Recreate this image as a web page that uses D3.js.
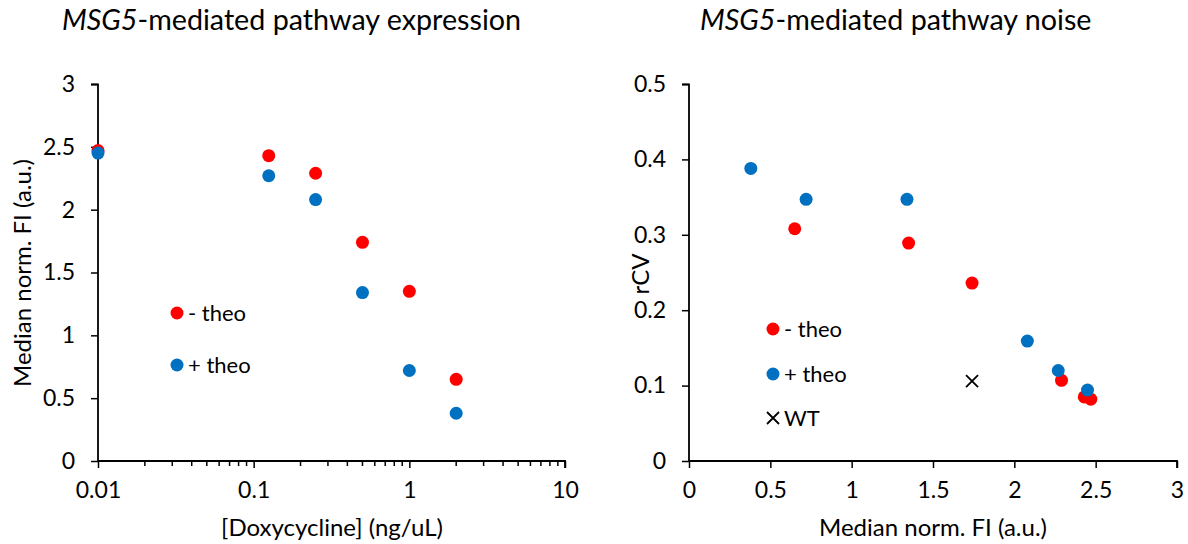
<!DOCTYPE html>
<html>
<head>
<meta charset="utf-8">
<script src="https://cdn.jsdelivr.net/npm/d3@7"></script>
<style>
  html, body { margin: 0; padding: 0; background: #fff; }
  svg { display: block; }
  text { font-family: Lato, "Open Sans", sans-serif; fill: #000; }
</style>
</head>
<body>
<svg id="chart" width="1188" height="544"></svg>
<script>
// Doxycycline doses (ng/uL); the untreated sample is plotted at 0.01
const doses = [0.01, 0.125, 0.25, 0.5, 1, 2];
// Median normalised fluorescence per dose
const medianNoTheo = [2.47, 2.43, 2.29, 1.74, 1.35, 0.65];
const medianTheo   = [2.45, 2.27, 2.08, 1.34, 0.72, 0.38];
// Robust coefficient of variation per dose
const rcvNoTheo = [0.082, 0.085, 0.107, 0.236, 0.289, 0.308];
const rcvTheo   = [0.094, 0.120, 0.159, 0.347, 0.347, 0.388];
// Wild-type reference
const wtMedian = [1.74];
const wtRcv = [0.106];

const leftYTicks = [0, 0.5, 1, 1.5, 2, 2.5, 3];
const leftXTicks = [0.01, 0.1, 1, 10];
const rightYTicks = [0, 0.1, 0.2, 0.3, 0.4, 0.5];
const rightXTicks = [0, 0.5, 1, 1.5, 2, 2.5, 3];

const RED = "#ff0000", BLUE = "#0070c0";
const R = 6.5;
const TICK_FONT = "23px", LABEL_FONT = "24px", LEGEND_FONT = "22px", TITLE_FONT = "28.7px";

const svg = d3.select("#chart");

function fmt(v) { return String(v); }

function drawAxes(g, x, y, xTicks, yTicks, minorX) {
  const [x0, x1] = x.range();
  const [y0, y1] = y.range();
  // y axis
  const ya = g.append("g").attr("transform", `translate(${x0},0)`)
    .call(d3.axisLeft(y).tickValues(yTicks).tickFormat(fmt).tickSize(7).tickSizeOuter(7).tickPadding(16));
  // x axis
  const xa = g.append("g").attr("transform", `translate(0,${y0})`)
    .call(d3.axisBottom(x).tickValues(xTicks).tickFormat(fmt).tickSize(7).tickSizeOuter(0).tickPadding(14));
  if (minorX) {
    g.append("g").attr("transform", `translate(0,${y0})`)
      .selectAll("line").data(minorX).join("line")
      .attr("x1", d => x(d)).attr("x2", d => x(d))
      .attr("y1", 0).attr("y2", 5)
      .attr("stroke", "#000").attr("stroke-width", 1.5);
  }
  [ya, xa].forEach(a => {
    a.select(".domain").attr("stroke", "#000").attr("stroke-width", 1.8);
    a.selectAll(".tick line").attr("stroke", "#000").attr("stroke-width", 1.5);
    a.selectAll(".tick text").style("font-size", TICK_FONT).attr("fill", "#000");
  });
  ya.select(".domain").attr("d", `M-7,${y1 + 0.5}H0V${y0}`);
  xa.select(".domain").attr("d", `M${x0},0H${x1}V7`);
}

function title(g, x, y, rest) {
  const t = g.append("text").attr("x", x).attr("y", y).style("font-size", TITLE_FONT);
  t.append("tspan").style("font-style", "italic").text("MSG5");
  t.append("tspan").text(rest);
}

function dots(g, xs, ys, x, y, color) {
  g.append("g").selectAll("circle").data(xs.map((d, i) => [d, ys[i]])).join("circle")
    .attr("cx", d => x(d[0])).attr("cy", d => y(d[1])).attr("r", R).attr("fill", color);
}

function cross(g, cx, cy, s) {
  g.append("path").attr("d", `M${cx - s},${cy - s}L${cx + s},${cy + s}M${cx - s},${cy + s}L${cx + s},${cy - s}`)
    .attr("stroke", "#000").attr("stroke-width", 1.8).attr("fill", "none");
}

function legendItem(g, cx, cy, color, label) {
  if (color) g.append("circle").attr("cx", cx).attr("cy", cy).attr("r", R).attr("fill", color);
  else cross(g, cx, cy, 6);
  g.append("text").attr("x", cx + 11).attr("y", cy).attr("dy", "0.36em")
    .style("font-size", LEGEND_FONT).text(label);
}

// ---- Left panel: expression vs doxycycline ----
const L = svg.append("g");
const lx = d3.scaleLog().domain([0.01, 10]).range([98, 565]);
const ly = d3.scaleLinear().domain([0, 3]).range([461, 84]);
const minor = [];
[0.01, 0.1, 1].forEach(dec => { for (let k = 2; k <= 9; k++) minor.push(dec * k); });
drawAxes(L, lx, ly, leftXTicks, leftYTicks, minor);
dots(L, doses, medianNoTheo, lx, ly, RED);
dots(L, doses, medianTheo, lx, ly, BLUE);
title(L, 62, 30, "-mediated pathway expression");
L.append("text").attr("transform", "translate(31,273) rotate(-90)").attr("text-anchor", "middle")
  .style("font-size", LABEL_FONT).text("Median norm. FI (a.u.)");
L.append("text").attr("x", 332).attr("y", 536).attr("text-anchor", "middle")
  .style("font-size", LABEL_FONT).text("[Doxycycline] (ng/uL)");
legendItem(L, 177, 313, RED, "- theo");
legendItem(L, 177, 365, BLUE, "+ theo");

// ---- Right panel: noise vs expression ----
const Rg = svg.append("g");
const rx = d3.scaleLinear().domain([0, 3]).range([689, 1177]);
const ry = d3.scaleLinear().domain([0, 0.5]).range([461, 84]);
drawAxes(Rg, rx, ry, rightXTicks, rightYTicks, null);
dots(Rg, medianNoTheo, rcvNoTheo, rx, ry, RED);
dots(Rg, medianTheo, rcvTheo, rx, ry, BLUE);
wtMedian.forEach((m, i) => cross(Rg, rx(m), ry(wtRcv[i]), 6));
title(Rg, 700, 30, "-mediated pathway noise");
Rg.append("text").attr("transform", "translate(649,274) rotate(-90)").attr("text-anchor", "middle")
  .style("font-size", LABEL_FONT).text("rCV");
Rg.append("text").attr("x", 933).attr("y", 536).attr("text-anchor", "middle")
  .style("font-size", LABEL_FONT).text("Median norm. FI (a.u.)");
legendItem(Rg, 773, 329, RED, "- theo");
legendItem(Rg, 773, 374, BLUE, "+ theo");
legendItem(Rg, 773, 418, null, "WT");
</script>
</body>
</html>
